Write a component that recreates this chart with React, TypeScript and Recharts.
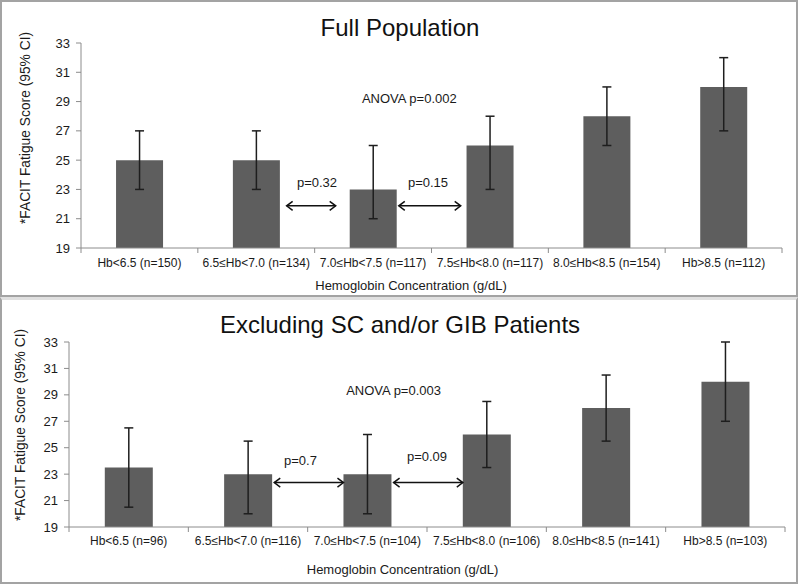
import React from "react";
import { BarChart, Bar, XAxis, YAxis, ErrorBar, ReferenceLine } from "recharts";

const labelsTop = [
  "Hb<6.5 (n=150)",
  "6.5≤Hb<7.0 (n=134)",
  "7.0≤Hb<7.5 (n=117)",
  "7.5≤Hb<8.0 (n=117)",
  "8.0≤Hb<8.5 (n=154)",
  "Hb>8.5 (n=112)",
];
const meanTop = [25, 25, 23, 26, 28, 30];
const lowTop = [23, 23, 21, 23, 26, 27];
const highTop = [27, 27, 26, 28, 30, 32];

const labelsBottom = [
  "Hb<6.5 (n=96)",
  "6.5≤Hb<7.0 (n=116)",
  "7.0≤Hb<7.5 (n=104)",
  "7.5≤Hb<8.0 (n=106)",
  "8.0≤Hb<8.5 (n=141)",
  "Hb>8.5 (n=103)",
];
const meanBottom = [23.5, 23, 23, 26, 28, 30];
const lowBottom = [20.5, 20, 20, 23.5, 25.5, 27];
const highBottom = [26.5, 25.5, 26, 28.5, 30.5, 33];

const yTicks = [19, 21, 23, 25, 27, 29, 31, 33];

// pairwise comparisons, x in category units (0..6)
const arrowsTop = [
  { from: 1.76, to: 2.18, y: 21.88, text: "p=0.32", tx: 2.02, ty: 23.46 },
  { from: 2.72, to: 3.25, y: 21.88, text: "p=0.15", tx: 2.97, ty: 23.46 },
];
const arrowsBottom = [
  { from: 1.72, to: 2.3, y: 22.36, text: "p=0.7", tx: 1.94, ty: 24.0 },
  { from: 2.72, to: 3.3, y: 22.36, text: "p=0.09", tx: 3.0, ty: 24.3 },
];
const anovaTop = { text: "ANOVA p=0.002", x: 2.81, y: 29.2 };
const anovaBottom = { text: "ANOVA p=0.003", x: 2.72, y: 29.35 };

const FONT = "'Liberation Sans', Arial, sans-serif";
const AXIS = "#8c8c8c";
const INK = "#1a1a1a";

function buildRows(labels: string[], mean: number[], low: number[], high: number[]) {
  return labels.map((name, i) => ({
    name,
    pos: i + 0.5,
    score: mean[i],
    ci: [mean[i] - low[i], high[i] - mean[i]],
  }));
}

function arrowShape(p: any) {
  const { x1, y1, x2 } = p;
  const h = 6;
  const w = 4.5;
  return (
    <g stroke="#111" strokeWidth={1.5} fill="none">
      <line x1={x1} y1={y1} x2={x2} y2={y1} />
      <polyline points={`${x1 + h},${y1 - w} ${x1},${y1} ${x1 + h},${y1 + w}`} />
      <polyline points={`${x2 - h},${y1 - w} ${x2},${y1} ${x2 - h},${y1 + w}`} />
    </g>
  );
}

function textShape(text: string) {
  return (p: any) => (
    <text x={p.x1} y={p.y1} textAnchor="middle" dominantBaseline="central" fontSize={13} fill={INK} fontFamily={FONT}>
      {text}
    </text>
  );
}

type PanelProps = {
  rows: { name: string; pos: number; score: number; ci: number[] }[];
  arrows: typeof arrowsTop;
  anova: typeof anovaTop;
  height: number;
  top: number;
  marginTop: number;
  marginRight: number;
  axisWidth: number;
  axisHeight: number;
  yLabelX: number;
  yLabelShift: number;
  xLabelShift: number;
  xLabelY: number;
  tickY: number;
};

function Panel(props: PanelProps) {
  const { rows, arrows, anova } = props;
  const halfBand = (800 - props.axisWidth - props.marginRight) / rows.length / 2;
  return (
    <div style={{ position: "absolute", left: 0, top: props.top }}>
      <BarChart
        width={800}
        height={props.height}
        data={rows}
        barCategoryGap="30%"
        margin={{ top: props.marginTop, right: props.marginRight, bottom: 0, left: 0 }}
      >
        <XAxis
          xAxisId="pos"
          dataKey="pos"
          type="number"
          domain={[0, 6]}
          allowDataOverflow
          padding={{ left: 0, right: 0 }}
          hide
        />
        <XAxis
          xAxisId="cat"
          dataKey="name"
          interval={0}
          height={props.axisHeight}
          tickLine={false}
          tickSize={0}
          tickMargin={0}
          axisLine={{ stroke: AXIS }}
          tick={(t: any) => (
            <g>
              {/* Excel-style ticks between categories */}
              <line x1={t.x - halfBand} y1={t.y} x2={t.x - halfBand} y2={t.y + 5} stroke={AXIS} />
              {t.index === rows.length - 1 && (
                <line x1={t.x + halfBand} y1={t.y} x2={t.x + halfBand} y2={t.y + 5} stroke={AXIS} />
              )}
              <text
                x={t.x}
                y={t.y + props.tickY}
                textAnchor="middle"
                dominantBaseline="central"
                fontSize={12}
                fill={INK}
                fontFamily={FONT}
              >
                {t.payload.value}
              </text>
            </g>
          )}
          label={{
            content: ({ viewBox }: any) => (
              <text
                x={viewBox.x + viewBox.width / 2 + props.xLabelShift}
                y={viewBox.y + props.xLabelY}
                textAnchor="middle"
                dominantBaseline="central"
                fontSize={13}
                fill={INK}
                fontFamily={FONT}
              >
                Hemoglobin Concentration (g/dL)
              </text>
            ),
          }}
        />
        <YAxis
          width={props.axisWidth}
          domain={[19, 33]}
          ticks={yTicks}
          interval={0}
          allowDataOverflow
          tickSize={5}
          tickMargin={6}
          axisLine={{ stroke: AXIS }}
          tickLine={{ stroke: AXIS }}
          tick={{ fontSize: 13, fill: INK, fontFamily: FONT }}
          label={{
            content: ({ viewBox }: any) => {
              const x = viewBox.x + props.yLabelX;
              const y = viewBox.y + viewBox.height / 2 + props.yLabelShift;
              return (
                <text
                  x={x}
                  y={y}
                  transform={`rotate(-90 ${x} ${y})`}
                  textAnchor="middle"
                  dominantBaseline="central"
                  fontSize={13.8}
                  fill={INK}
                  fontFamily={FONT}
                >
                  *FACIT Fatigue Score (95% CI)
                </text>
              );
            },
          }}
        />
        <Bar dataKey="score" xAxisId="cat" fill="#5e5e5e" isAnimationActive={false}>
          <ErrorBar dataKey="ci" direction="y" width={4.5} stroke="#1e1e1e" strokeWidth={1.5} isAnimationActive={false} />
        </Bar>
        {arrows.map((a) => (
          <ReferenceLine
            key={a.text + "-arrow"}
            xAxisId="pos"
            ifOverflow="visible"
            segment={[
              { x: a.from, y: a.y },
              { x: a.to, y: a.y },
            ]}
            shape={arrowShape}
          />
        ))}
        {arrows.map((a) => (
          <ReferenceLine
            key={a.text}
            xAxisId="pos"
            ifOverflow="visible"
            segment={[
              { x: a.tx, y: a.ty },
              { x: a.tx, y: a.ty },
            ]}
            shape={textShape(a.text)}
          />
        ))}
        <ReferenceLine
          xAxisId="pos"
          ifOverflow="visible"
          segment={[
            { x: anova.x, y: anova.y },
            { x: anova.x, y: anova.y },
          ]}
          shape={textShape(anova.text)}
        />
      </BarChart>
    </div>
  );
}

const titleStyle: React.CSSProperties = {
  position: "absolute",
  left: 0,
  width: 800,
  textAlign: "center",
  fontFamily: FONT,
  fontSize: 24,
  lineHeight: "24px",
  color: "#111",
};

export default function App() {
  const top = buildRows(labelsTop, meanTop, lowTop, highTop);
  const bottom = buildRows(labelsBottom, meanBottom, lowBottom, highBottom);
  return (
    <div style={{ position: "absolute", left: 0, top: 0, width: 800, height: 584, background: "#fff", overflow: "hidden" }}>
      <div
        style={{
          position: "absolute",
          left: 0,
          top: 0,
          width: 798,
          height: 297,
          boxSizing: "border-box",
          border: "2px solid #a3a3a3",
        }}
      />
      <div
        style={{
          position: "absolute",
          left: 0,
          top: 297,
          width: 798,
          height: 287,
          boxSizing: "border-box",
          borderLeft: "2px solid #a3a3a3",
          borderRight: "2px solid #a3a3a3",
          borderBottom: "2px solid #a3a3a3",
          borderTop: "3px solid #e0e0e0",
        }}
      />
      <div style={{ ...titleStyle, top: 15.5 }}>Full Population</div>
      <div style={{ ...titleStyle, top: 313.3 }}>Excluding SC and/or GIB Patients</div>
      <Panel
        rows={top}
        arrows={arrowsTop}
        anova={anovaTop}
        top={0}
        height={296}
        marginTop={43}
        marginRight={18}
        axisWidth={81}
        axisHeight={48}
        yLabelX={25}
        yLabelShift={-17.5}
        xLabelShift={-20.5}
        xLabelY={37.5}
        tickY={15}
      />
      <Panel
        rows={bottom}
        arrows={arrowsBottom}
        anova={anovaBottom}
        top={298}
        height={286}
        marginTop={44}
        marginRight={15}
        axisWidth={69}
        axisHeight={57}
        yLabelX={20}
        yLabelShift={-9.5}
        xLabelShift={-24.5}
        xLabelY={42.3}
        tickY={13.7}
      />
    </div>
  );
}
